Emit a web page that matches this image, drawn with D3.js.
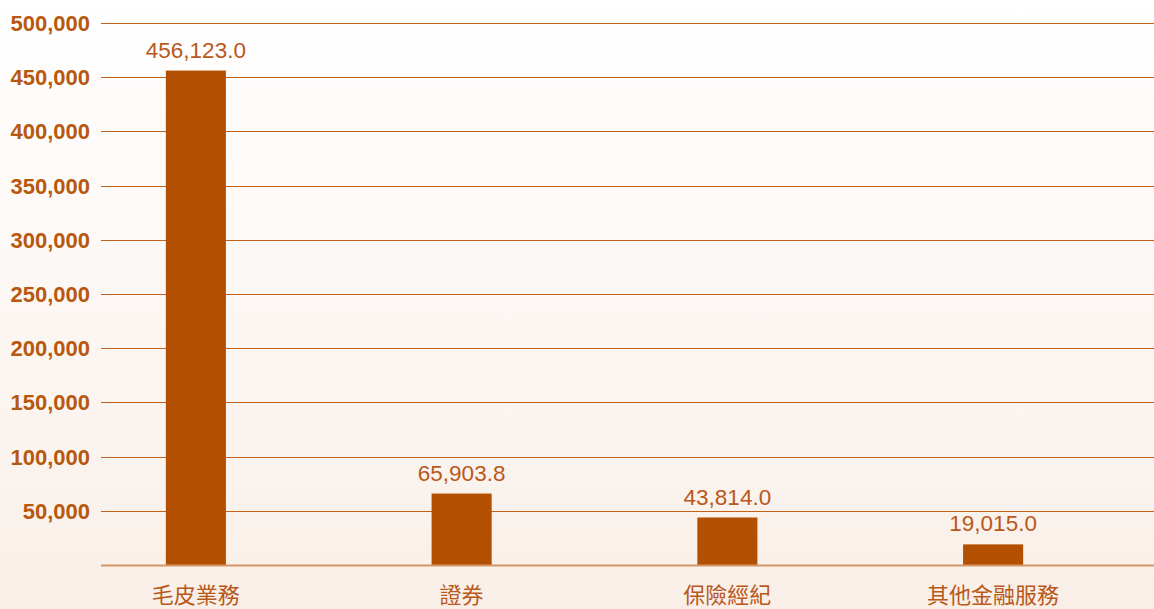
<!DOCTYPE html>
<html><head><meta charset="utf-8">
<script src="https://cdn.jsdelivr.net/npm/d3@7"></script>
<style>html,body{margin:0;padding:0;}svg{display:block;}</style>
</head><body>
<svg id="chart" width="1154" height="609"></svg>
<script>
const categories = ["毛皮業務", "證券", "保險經紀", "其他金融服務"];
const values = [456123.0, 65903.8, 43814.0, 19015.0];
const tickValues = [50000, 100000, 150000, 200000, 250000, 300000, 350000, 400000, 450000, 500000];

const W = 1154, H = 609;
const svg = d3.select("#chart");
const defs = svg.append("defs");
const grad = defs.append("linearGradient").attr("id","bg").attr("x1",0).attr("y1",0).attr("x2",0).attr("y2",1);
grad.append("stop").attr("offset","0%").attr("stop-color","#ffffff");
grad.append("stop").attr("offset","100%").attr("stop-color","#f9efe8");
svg.append("rect").attr("width",W).attr("height",H).attr("fill","url(#bg)");

const x0 = 101, x1 = 1154, yTop = 23, yBot = 565;
const y = d3.scaleLinear().domain([0, 500000]).range([yBot, yTop]);
const x = d3.scaleBand().domain(categories).range([63, 1126]).paddingInner(0.774).paddingOuter(0.387);

const fmtTick = d3.format(",");
const fmtVal = d3.format(",.1f");

// gridlines
svg.append("g").selectAll("line").data(tickValues).join("line")
  .attr("x1", x0).attr("x2", x1)
  .attr("y1", d => Math.round(y(d)) + 0.5).attr("y2", d => Math.round(y(d)) + 0.5)
  .attr("stroke", "#c2621a").attr("stroke-width", 1);

// tick labels
svg.append("g").selectAll("text").data(tickValues).join("text")
  .attr("x", 90).attr("y", d => y(d)).attr("dy", "0.36em")
  .attr("text-anchor", "end")
  .attr("font-family", "Liberation Sans, Arial, sans-serif")
  .attr("font-weight", "bold").attr("font-size", 22)
  .attr("fill", "#b8580f")
  .text(d => fmtTick(d));

// bars
svg.append("g").selectAll("rect").data(values).join("rect")
  .attr("x", (d,i) => x(categories[i]))
  .attr("width", x.bandwidth())
  .attr("y", d => y(d))
  .attr("height", d => yBot - y(d))
  .attr("fill", "#b24f00");

// baseline
svg.append("line").attr("x1", x0).attr("x2", x1).attr("y1", yBot+0.5).attr("y2", yBot+0.5)
  .attr("stroke", "#d39566").attr("stroke-width", 2);

// value labels
svg.append("g").selectAll("text").data(values).join("text")
  .attr("x", (d,i) => x(categories[i]) + x.bandwidth()/2)
  .attr("y", d => y(d) - 13)
  .attr("text-anchor", "middle")
  .attr("font-family", "Liberation Sans, Arial, sans-serif")
  .attr("font-size", 22.5)
  .attr("fill", "#b8581a")
  .text(d => fmtVal(d));

// category labels
svg.append("g").selectAll("text").data(categories).join("text")
  .attr("x", d => x(d) + x.bandwidth()/2)
  .attr("y", 603)
  .attr("text-anchor", "middle")
  .attr("font-family", "Noto Sans CJK TC, sans-serif")
  .attr("font-size", 22)
  .attr("fill", "#b8581a")
  .text(d => d);
</script>
</body></html>
